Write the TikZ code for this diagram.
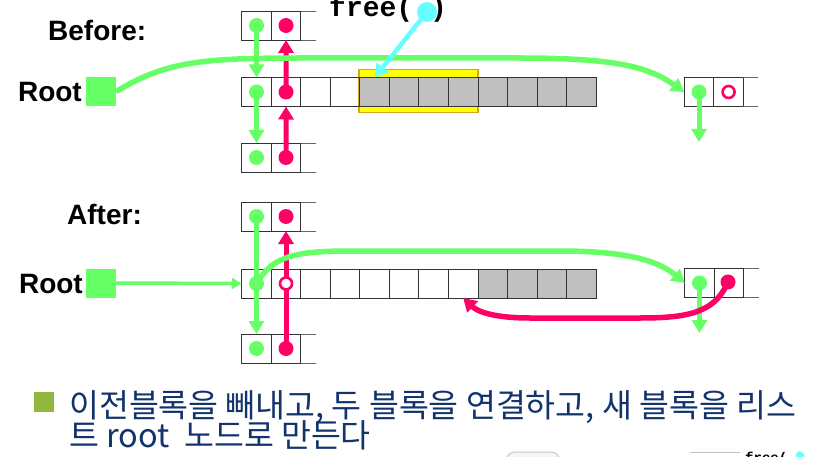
\documentclass[tikz,border=0pt]{standalone}
\usepackage{fontspec}
\setmainfont{Liberation Sans}
\newfontfamily\monofont{Liberation Mono}
\newfontfamily\krfont{Noto Sans CJK KR}
\usetikzlibrary{arrows.meta}
\definecolor{grn}{HTML}{66FF66}
\definecolor{rd}{HTML}{FF0066}
\definecolor{cyn}{HTML}{66FFFF}
\definecolor{yel}{HTML}{FFFF00}
\definecolor{yelrim}{HTML}{D4A520}
\definecolor{gry}{HTML}{C0C0C0}
\definecolor{krblue}{HTML}{12336C}
\definecolor{bul}{HTML}{8FB83C}

\begin{document}
\begin{tikzpicture}[x=1pt,y=-1pt,
  cell/.style={draw=black!80, line width=0.9pt, minimum width=29.5pt, minimum height=29pt, inner sep=0pt, outer sep=0pt},
  graycell/.style={cell, fill=gry},
  openend/.style={draw=black!60, line width=0.9pt},
  gdot/.style={circle, fill=grn, inner sep=0pt, minimum size=15pt},
  rdot/.style={circle, fill=rd, inner sep=0pt, minimum size=15pt},
  rring/.style={circle, draw=rd, fill=white, line width=2.6pt, inner sep=0pt, minimum size=12pt},
  garrow/.style={draw=grn, line width=5pt, -{Triangle[length=13pt,width=15pt]}},
  rarrow/.style={draw=rd, line width=5pt, -{Triangle[length=13pt,width=15pt]}},
  rootbox/.style={fill=grn, minimum width=30pt, minimum height=29pt, inner sep=0pt},
  lab/.style={font=\fontsize{28}{30}\selectfont\bfseries, inner sep=0pt}]
\useasboundingbox (0,0) rectangle (829,457);

\node[lab, anchor=base west] (before) at (48,41) {Before:};
\node[lab, anchor=base west] (after) at (67,224) {After:};
\node[lab, anchor=base east] (rootbtxt) at (82,101.5) {Root};
\node[lab, anchor=base east] (rootatxt) at (83,293) {Root};
\node[rootbox] (rootb) at (101,91.5) {};
\node[rootbox] (roota) at (101,283) {};

\node[font=\monofont\fontsize{28}{30}\selectfont\bfseries, anchor=base west, inner sep=0pt] (free) at (329,17) {free( )};
\node[draw=yelrim, fill=yel, line width=1.2pt, minimum width=119pt, minimum height=43pt, inner sep=0pt] (hilite) at (418.5,91) {};

\foreach \i in {0,...,3} \node[cell] (bm\i) at ({256.5+29.53*\i},92) {};
\foreach \i in {4,...,11} \node[graycell] (bm\i) at ({256.5+29.53*\i},92) {};
\node[cell] (bt0) at (256.5,25.5) {};
\node[cell] (bt1) at (286,25.5) {};
\node[cell] (bb0) at (256.5,157.5) {};
\node[cell] (bb1) at (286,157.5) {};
\node[cell] (br0) at (699,92) {};
\node[cell] (br1) at (728.6,92) {};
\draw[openend] (bt1.north east) -- ++(15,0) (bt1.south east) -- ++(15,0);
\draw[openend] (bb1.north east) -- ++(15,0) (bb1.south east) -- ++(15,0);
\draw[openend] (br1.north east) -- ++(15,0) (br1.south east) -- ++(15,0);

\foreach \i in {0,...,7} \node[cell] (am\i) at ({256.5+29.53*\i},283.5) {};
\foreach \i in {8,...,11} \node[graycell] (am\i) at ({256.5+29.53*\i},283.5) {};
\node[cell] (at0) at (256.5,216.5) {};
\node[cell] (at1) at (286,216.5) {};
\node[cell] (ab0) at (256.5,348.5) {};
\node[cell] (ab1) at (286,348.5) {};
\node[cell] (ar0) at (699.5,283) {};
\node[cell] (ar1) at (729,283) {};
\draw[openend] (at1.north east) -- ++(15,0) (at1.south east) -- ++(15,0);
\draw[openend] (ab1.north east) -- ++(15,0) (ab1.south east) -- ++(15,0);
\draw[openend] (ar1.north east) -- ++(15,0) (ar1.south east) -- ++(15,0);

\node[gdot] (btg) at (bt0) {};
\node[rdot] (btr) at (bt1) {};
\node[gdot] (bmg) at (bm0) {};
\node[rdot] (bmr) at (bm1) {};
\node[gdot] (bbg) at (bb0) {};
\node[rdot] (bbr) at (bb1) {};
\node[gdot] (brg) at (br0) {};
\node[rring] (brr) at (br1) {};
\coordinate (brend) at (699,142);

\node[gdot] (atg) at (at0) {};
\node[rdot] (atr) at (at1) {};
\node[gdot] (amg) at (am0) {};
\node[gdot] (abg) at (ab0) {};
\node[rdot] (abr) at (ab1) {};
\node[gdot] (arg) at (ar0) {};
\node[rdot] (arr) at (728,282) {};
\coordinate (arend) at (699.5,333);

\draw[garrow] (btg.center) -- (bm0.north);
\draw[garrow] (bmg.center) -- (bb0.north);
\draw[rarrow] (bmr.center) -- (bt1.south);
\draw[rarrow] (bbr.center) -- (bm1.south);
\draw[garrow] (brg.center) -- (brend);
\draw[garrow, line width=5.5pt] (rootb.east) .. controls (165,62) and (200,58) .. (300,58) -- (520,58) .. controls (620,58) and (650,68) .. (br0.west);
\node[circle, fill=cyn, inner sep=0pt, minimum size=20pt] (fdot) at (427,12) {};
\draw[draw=cyn, line width=4.5pt, -{Triangle[length=13pt,width=15pt]}] (fdot.center) -- (bm4.north);

\draw[draw=grn, line width=5pt] (atg.center) -- (amg.center);
\draw[garrow] (amg.center) -- (ab0.north);
\draw[rarrow] (abr.center) -- (at1.south);
\node[rring] (amr) at (am1) {};
\draw[garrow] (arg.center) -- (arend);
\draw[draw=grn, line width=3.5pt, -{Triangle[length=10pt,width=11pt]}] (roota.east) -- (am0.west);
\draw[garrow, line width=5.5pt] (amg.center) .. controls (272,258) and (290,251) .. (350,251) -- (560,251) .. controls (630,251) and (660,262) .. (ar0.west);
\draw[rarrow, line width=5.5pt] (arr.center) .. controls (715,312) and (690,318) .. (640,318) -- (530,318) .. controls (495,318) and (478,312) .. (am7.south);

\node[fill=bul, minimum size=20pt, inner sep=0pt] (bullet) at (44,402) {};
\node[font=\krfont\fontsize{32.5}{34}\selectfont, text=krblue, anchor=base west, inner sep=0pt] (line1) at (69,417) {이전블록을 빼내고, 두 블록을 연결하고, 새 블록을 리스};
\node[font=\krfont\fontsize{32.5}{34}\selectfont, text=krblue, anchor=base west, inner sep=0pt] (line2) at (69,447) {트 root~~노드로 만든다};

\begin{scope}
\clip (0,0) rectangle (829,457);
\draw[draw=gray!45, fill=gray!8, line width=1pt, rounded corners=9pt] (506,452) rectangle (560,480);
\draw[draw=gray!50, line width=1pt] (690,452) -- (740,452);
\node[font=\monofont\fontsize{14}{16}\selectfont\bfseries, anchor=base west, inner sep=0pt] (frag) at (745,462) {free( )};
\node[circle, fill=cyn, inner sep=0pt, minimum size=9pt] (fragdot) at (800,456) {};
\end{scope}
\end{tikzpicture}
\end{document}
